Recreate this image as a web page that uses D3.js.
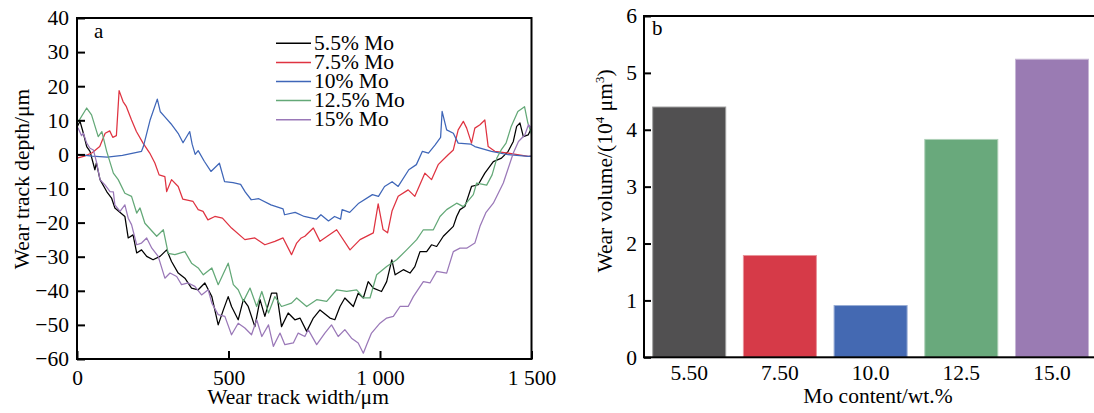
<!DOCTYPE html>
<html>
<head>
<meta charset="utf-8">
<script src="https://cdn.jsdelivr.net/npm/d3@7"></script>
<style>
  html, body { margin: 0; padding: 0; background: #fff; }
  svg { display: block; }
  text { font-family: "Liberation Serif", "Times New Roman", serif; fill: #000; }
</style>
</head>
<body>
<svg id="chart" width="1094" height="413"></svg>
<script>
// ---------------- data ----------------
// panel a: wear-track profiles, [width µm, depth µm]
const mo55 = [[0,8],[4,8.7],[10,9.7],[21,6.2],[32,2.3],[43,0.9],[59,-4.5],[64,-2.5],[76,-7.4],[98,-10.9],[114,-12.8],[125,-15.7],[158,-18.2],[169,-24.5],[185,-23.6],[197,-28.9],[213,-28],[230,-29.9],[251,-30.9],[274,-29.9],[296,-28],[312,-31.4],[334,-34.8],[356,-36.3],[378,-39.2],[400,-39.7],[422,-37.7],[445,-41.7],[466,-50],[483,-45.6],[499,-41.7],[510,-44.6],[532,-48.5],[549,-42.6],[565,-44.6],[587,-50.5],[604,-42.6],[620,-47.5],[642,-40.7],[659,-40.7],[675,-50.5],[697,-46.5],[719,-48.5],[736,-48],[758,-51.9],[780,-48],[802,-45.6],[835,-48],[851,-48.5],[868,-44.6],[884,-42.1],[912,-44.6],[928,-40.7],[945,-42.1],[961,-37.3],[978,-39.2],[1005,-40.2],[1022,-37.3],[1039,-30.9],[1050,-35.3],[1077,-33.8],[1099,-34.8],[1115,-32.9],[1132,-28.5],[1154,-28.5],[1170,-26.5],[1187,-27],[1209,-24],[1242,-21.1],[1253,-18.2],[1264,-16.2],[1280,-15.3],[1302,-9.4],[1324,-8.9],[1346,-5.5],[1374,-2.1],[1401,-1.1],[1423,0.9],[1440,3.8],[1451,8.2],[1462,9.2],[1473,5.2],[1489,5.7],[1500,7.7]];
const mo75 = [[0,-1.1],[25,-0.5],[50,0.5],[75,2.3],[93,6.2],[108,6.9],[118,5],[130,5.5],[139,18.7],[152,15.5],[163,14],[180,10.1],[196,6.7],[218,3.3],[240,0.4],[257,-2.5],[271,-6],[290,-6.5],[296,-10.9],[312,-7.4],[334,-9.4],[349,-13.1],[383,-13.8],[400,-16.2],[416,-16.7],[432,-19.2],[455,-18.2],[480,-18.7],[510,-21.6],[554,-25],[587,-24.5],[620,-26.5],[653,-25.5],[680,-24.5],[708,-29.4],[725,-26],[740,-24.5],[752,-24],[780,-21.6],[802,-25.5],[857,-22.1],[901,-28],[934,-25],[978,-23],[994,-14.5],[1010,-22],[1025,-23],[1040,-16.5],[1060,-12.3],[1093,-10.4],[1115,-12.3],[1148,-5.5],[1170,-7.4],[1192,-3],[1225,-0.1],[1242,1.3],[1258,7.2],[1275,9.7],[1286,7.7],[1302,3.3],[1313,7.7],[1330,8.7],[1346,10.1],[1357,2.3],[1379,0.9],[1423,0.4],[1489,-0.6],[1500,-0.5]];
const mo10 = [[0,0],[50,-0.5],[100,-0.8],[150,-0.3],[213,0.9],[219,2.3],[241,10],[265,16.2],[275,12.5],[290,11],[310,9],[335,6],[350,3.4],[372,6.7],[380,3],[390,0],[400,1.1],[420,-2],[442,-5],[470,-2.6],[487,-8],[515,-8.3],[540,-8.8],[555,-11],[575,-13.3],[600,-13],[640,-14.8],[680,-16],[685,-17.7],[720,-17],[750,-18.2],[790,-19],[805,-17.7],[830,-19.5],[850,-18.2],[870,-19],[875,-16.2],[900,-17],[930,-14.3],[975,-11.8],[995,-12.3],[1015,-9.4],[1040,-8],[1060,-9.4],[1095,-4.5],[1120,-3],[1140,0.9],[1160,0.4],[1182,2.8],[1200,5],[1205,12.6],[1220,7.2],[1242,6.2],[1258,3.3],[1300,3],[1313,2.3],[1368,0.9],[1423,-0.1],[1490,-0.6],[1500,-0.5]];
const mo125 = [[0,9.5],[5,9.7],[32,13.6],[48,11.6],[70,5.2],[82,6.7],[98,0.9],[120,-5.5],[136,-7.4],[158,-11.4],[180,-12.3],[197,-17.2],[208,-15.7],[224,-20.2],[263,-24],[285,-22.1],[301,-29],[323,-29.4],[356,-28.5],[378,-31.9],[400,-33.3],[417,-35.3],[445,-33.3],[466,-38.2],[499,-31.9],[516,-38.2],[532,-39.7],[549,-43.1],[571,-39.2],[593,-44.6],[610,-40.2],[632,-46.5],[653,-41.7],[675,-44.6],[708,-43.6],[725,-42.1],[758,-44.6],[791,-42.6],[824,-43.1],[857,-39.7],[890,-40.2],[923,-39.7],[945,-42.1],[967,-42.1],[989,-35.3],[1022,-32.9],[1055,-30.9],[1088,-28],[1121,-25],[1143,-22.1],[1176,-22.1],[1198,-18.2],[1220,-16.2],[1253,-14.3],[1275,-15.3],[1308,-11.8],[1319,-8.4],[1352,-9],[1370,-6],[1386,-1],[1400,1.3],[1416,3.3],[1433,8.2],[1455,12.6],[1477,14],[1488,9.2],[1500,6]];
const mo15 = [[0,7.5],[4,7.7],[15,5.5],[21,6.2],[32,3.3],[43,1.8],[54,1.3],[65,-2.5],[76,-7.4],[93,-9],[109,-10.9],[120,-11],[125,-14.8],[142,-16.7],[158,-14.8],[169,-18.7],[180,-20.6],[197,-26.5],[213,-26],[230,-24.5],[247,-27.5],[268,-29.9],[290,-36.3],[307,-34.8],[329,-35.8],[345,-38.2],[367,-37.7],[389,-38.7],[411,-41.2],[433,-39.7],[445,-43.6],[466,-47],[488,-47.5],[510,-52.9],[532,-49.5],[554,-50.9],[576,-52.9],[593,-48.5],[610,-53.4],[632,-50],[648,-56.3],[670,-52.4],[686,-55.8],[714,-55.3],[730,-52.4],[752,-53.4],[763,-51.4],[791,-55.8],[818,-52.4],[840,-50],[862,-53.4],[884,-51.4],[906,-53.9],[928,-55.3],[945,-58.3],[956,-55.8],[972,-52.4],[1000,-49.5],[1022,-48],[1044,-47.5],[1066,-44.6],[1093,-44.6],[1110,-41.7],[1143,-37.3],[1165,-37.7],[1187,-34.3],[1220,-34.8],[1242,-28.5],[1264,-27.5],[1286,-27.5],[1313,-26],[1330,-21.1],[1350,-17],[1374,-14.3],[1407,-8.4],[1440,0.4],[1457,3.8],[1478,5.7],[1490,8.7],[1500,7.7]];

const seriesNames = ["5.5% Mo", "7.5% Mo", "10% Mo", "12.5% Mo", "15% Mo"];
const seriesData = [mo55, mo75, mo10, mo125, mo15];
const xTicksA = [0, 500, 1000, 1500];
const yTicksA = [-60, -50, -40, -30, -20, -10, 0, 10, 20, 30, 40];

// panel b: wear volume (10^4 µm^3)
const moCategories = ["5.50", "7.50", "10.0", "12.5", "15.0"];
const wearVolume = [4.40, 1.79, 0.91, 3.83, 5.24];
const yTicksB = [0, 1, 2, 3, 4, 5, 6];

// ---------------- styles ----------------
const lineColors = ["#000000", "#df3341", "#3f66b8", "#63a877", "#9a78b8"];
const barColors = ["#515051", "#d63a48", "#4469b2", "#69a97c", "#9a7bb3"];
const FONT = 21.5;

const svg = d3.select("#chart");

// ================= panel a =================
const A = { left: 77, right: 531.5, top: 18, bottom: 359 };
const xA = d3.scaleLinear().domain([0, 1500]).range([A.left, A.right]);
const yA = d3.scaleLinear().domain([-60, 40]).range([A.bottom, A.top]);

const fmtX = d => d >= 1000 ? d3.format(",")(d).replace(",", " ") : String(d);

const line = d3.line().x(d => xA(d[0])).y(d => yA(d[1]));
const gLines = svg.append("g");
seriesData.forEach((s, i) => {
  gLines.append("path")
    .datum(s)
    .attr("d", line)
    .attr("fill", "none")
    .attr("stroke", lineColors[i])
    .attr("stroke-width", 1.25)
    .attr("stroke-linejoin", "round");
});

const axA_y = svg.append("g")
  .attr("transform", `translate(${A.left},0)`)
  .call(d3.axisLeft(yA).tickValues(yTicksA).tickSize(-8).tickPadding(8).tickFormat(d3.format("d")));
const axA_x = svg.append("g")
  .attr("transform", `translate(0,${A.bottom})`)
  .call(d3.axisBottom(xA).tickValues(xTicksA).tickSize(-8).tickPadding(10.5).tickFormat(fmtX));
[axA_y, axA_x].forEach(g => {
  g.select(".domain").remove();
  g.selectAll(".tick line").attr("stroke", "#000").attr("stroke-width", 2);
  g.selectAll(".tick text").attr("font-size", FONT).attr("font-family", "Liberation Serif");
});

svg.append("rect")
  .attr("x", A.left).attr("y", A.top)
  .attr("width", A.right - A.left).attr("height", A.bottom - A.top)
  .attr("fill", "none").attr("stroke", "#000").attr("stroke-width", 2);

svg.append("text").attr("x", 94).attr("y", 38).attr("font-size", 21).text("a");

svg.append("text")
  .attr("x", 298).attr("y", 404)
  .attr("text-anchor", "middle").attr("font-size", FONT)
  .text("Wear track width/μm");
svg.append("text")
  .attr("transform", `translate(29,179) rotate(-90)`)
  .attr("text-anchor", "middle").attr("font-size", FONT)
  .text("Wear track depth/μm");

// legend
const legY0 = 43.3, legStep = 19.1;
seriesNames.forEach((name, i) => {
  const y = legY0 + i * legStep;
  svg.append("line").attr("x1", 276).attr("x2", 311).attr("y1", y).attr("y2", y)
    .attr("stroke", lineColors[i]).attr("stroke-width", 1.5);
  svg.append("text").attr("x", 314).attr("y", y + 6.5).attr("font-size", FONT).text(name);
});

// ================= panel b =================
const B = { left: 644, right: 1097.2, top: 16, bottom: 357.3 };
const xB = d3.scaleBand().domain(moCategories).range([B.left, B.right])
  .paddingInner(0.195).paddingOuter(0.096);
const yB = d3.scaleLinear().domain([0, 6]).range([B.bottom, B.top]);

svg.append("g").selectAll("rect")
  .data(wearVolume)
  .join("rect")
  .attr("x", (d, i) => xB(moCategories[i]))
  .attr("width", xB.bandwidth())
  .attr("y", d => yB(d))
  .attr("height", d => yB(0) - yB(d))
  .attr("fill", (d, i) => barColors[i])
  .attr("stroke", (d, i) => d3.interpolateRgb(barColors[i], "#ffffff")(0.45))
  .attr("stroke-width", 1);

const axB_y = svg.append("g")
  .attr("transform", `translate(${B.left},0)`)
  .call(d3.axisLeft(yB).tickValues(yTicksB).tickSize(-7).tickPadding(7).tickFormat(d3.format("d")));
const axB_x = svg.append("g")
  .attr("transform", `translate(0,${B.bottom})`)
  .call(d3.axisBottom(xB).tickSize(0).tickPadding(7.5));
[axB_y, axB_x].forEach(g => {
  g.select(".domain").remove();
  g.selectAll(".tick line").attr("stroke", "#000").attr("stroke-width", 2);
  g.selectAll(".tick text").attr("font-size", FONT).attr("font-family", "Liberation Serif");
});

svg.append("rect")
  .attr("x", B.left).attr("y", B.top)
  .attr("width", B.right - B.left).attr("height", B.bottom - B.top)
  .attr("fill", "none").attr("stroke", "#000").attr("stroke-width", 2);

svg.append("text").attr("x", 652).attr("y", 35).attr("font-size", 21).text("b");

svg.append("text")
  .attr("x", 878).attr("y", 403)
  .attr("text-anchor", "middle").attr("font-size", FONT)
  .text("Mo content/wt.%");

const yt = svg.append("text")
  .attr("transform", `translate(612,171) rotate(-90)`)
  .attr("text-anchor", "middle").attr("font-size", FONT);
yt.append("tspan").text("Wear volume/(10");
yt.append("tspan").attr("font-size", 13).attr("dy", -8).text("4");
yt.append("tspan").attr("dy", 8).text(" μm");
yt.append("tspan").attr("font-size", 13).attr("dy", -8).text("3");
yt.append("tspan").attr("dy", 8).text(")");
</script>
</body>
</html>
